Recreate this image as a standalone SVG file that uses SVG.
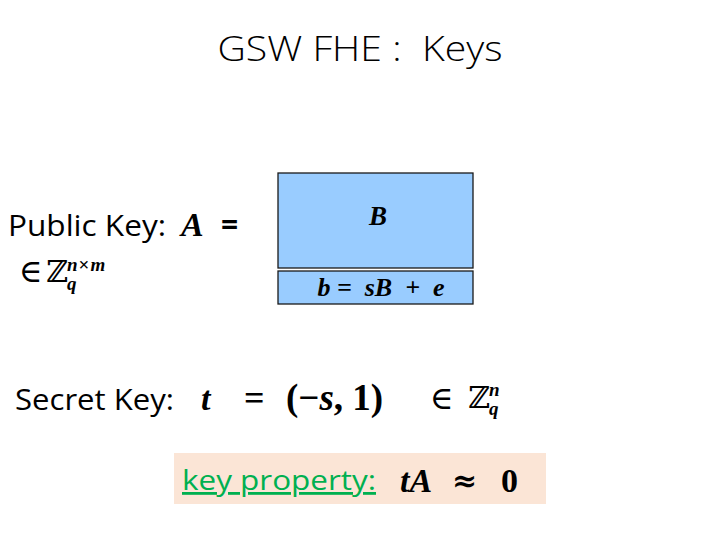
<svg xmlns="http://www.w3.org/2000/svg" width="720" height="540" viewBox="0 0 720 540">
<style>
.sans{font-family:"Open Sans","Noto Sans","DejaVu Sans",sans-serif;fill:#000}
.math{font-family:"Liberation Serif","DejaVu Serif",serif;font-weight:bold;font-style:italic;fill:#000}
.mathu{font-family:"Liberation Serif","DejaVu Serif",serif;font-weight:bold;fill:#000}
.sym{font-family:"DejaVu Serif","DejaVu Sans",serif;fill:#000}
.sc{font-size:19px}
.box{fill:#99CCFF;stroke:#1a1a1a;stroke-width:1.3}
</style>
<rect width="720" height="540" fill="#fff"/>
<g id="title"><text class="sans" x="360" y="61" font-size="35" font-weight="300" text-anchor="middle" textLength="285" lengthAdjust="spacingAndGlyphs" xml:space="preserve">GSW FHE :  Keys</text></g>
<g id="public-key">
<text class="sans" x="8" y="236" font-size="30" textLength="158" lengthAdjust="spacingAndGlyphs">Public Key:</text>
<text class="math" x="181" y="236" font-size="34">A</text>
<text class="sans" x="221" y="235" font-size="30" font-weight="bold">=</text>
<text class="sym" x="19" y="282" font-size="32">∈</text>
<text class="sym" x="46" y="282" font-size="30">ℤ</text>
<text class="math sc" x="67" y="271">n<tspan font-style="normal" dx="1">×</tspan><tspan dx="1">m</tspan></text>
<text class="math sc" x="67" y="290">q</text>
</g>
<g id="matrix-B"><rect class="box" x="278" y="173" width="195" height="95"/><text class="math" x="378" y="225" font-size="27" text-anchor="middle">B</text></g>
<g id="matrix-b"><rect class="box" x="278" y="271" width="195" height="33"/><text class="math" x="381" y="296" font-size="26" text-anchor="middle" xml:space="preserve">b =  sB  +  e</text></g>
<g id="secret-key">
<text class="sans" x="15" y="410" font-size="30" textLength="159" lengthAdjust="spacingAndGlyphs">Secret Key:</text>
<text class="math" x="201" y="410" font-size="34">t</text>
<text class="mathu" x="244" y="410" font-size="36">=</text>
<text class="mathu" x="286" y="410" font-size="37">(−<tspan font-style="italic">s</tspan>, 1)</text>
<text class="sym" x="430" y="409" font-size="32">∈</text>
<text class="sym" x="468" y="408" font-size="30">ℤ</text>
<text class="math sc" x="489" y="396">n</text>
<text class="math sc" x="489" y="415">q</text>
</g>
<g id="key-property">
<rect x="174" y="453" width="372" height="51" fill="#FBE5D6"/>
<text x="182" y="490" font-size="28" fill="#00B050" text-decoration="underline" font-family="Open Sans,Noto Sans,sans-serif" textLength="194" lengthAdjust="spacingAndGlyphs">key property:</text>
<text class="math" x="400" y="492" font-size="34">tA</text>
<text class="sym" x="452" y="491" font-size="30" font-weight="bold">≈</text>
<text class="mathu" x="501" y="492" font-size="34">0</text>
</g>
</svg>
